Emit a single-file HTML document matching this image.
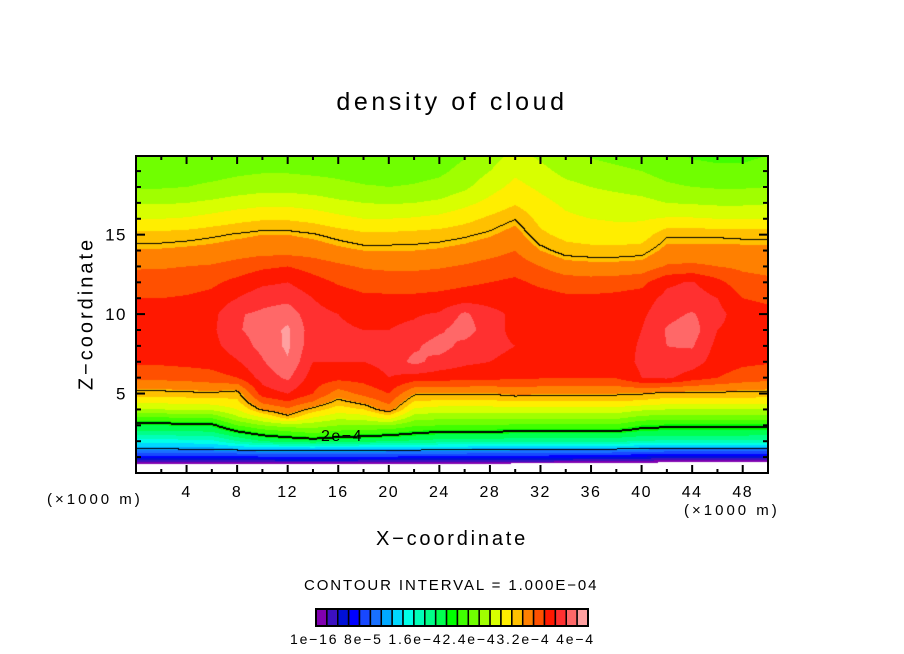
<!DOCTYPE html>
<html><head><meta charset="utf-8"><style>
html,body{margin:0;padding:0;background:#fff;}
#root{position:relative;width:904px;height:654px;overflow:hidden;font-family:"Liberation Sans",sans-serif;color:#000;}
.t{position:absolute;white-space:nowrap;}
</style></head><body>
<div id="root">
<div class="t" style="left:0;width:904px;text-align:center;top:88px;font-size:25px;letter-spacing:3.6px;">density of cloud</div>
<canvas id="cv" width="632" height="317" style="position:absolute;left:136px;top:156px;"></canvas>
<svg id="ax" width="904" height="654" style="position:absolute;left:0;top:0;"></svg>
<div class="t" style="left:-8px;top:302px;font-size:20px;letter-spacing:3px;transform:rotate(-90deg);transform-origin:center;width:190px;text-align:center;">Z−coordinate</div>
<div class="t" style="left:376px;top:528px;font-size:20px;letter-spacing:2.8px;">X−coordinate</div>
<div class="t" style="left:47px;top:491px;font-size:15px;letter-spacing:3px;">(×1000 m)</div>
<div class="t" style="left:684px;top:502px;font-size:15px;letter-spacing:3px;">(×1000 m)</div>
<div class="t" style="left:304px;top:577px;font-size:15px;letter-spacing:1.9px;">CONTOUR INTERVAL = 1.000E−04</div>
<div class="t" style="left:290px;top:631px;font-size:14px;letter-spacing:1.8px;">1e−16 8e−5 1.6e−42.4e−43.2e−4 4e−4</div>
<div class="t" style="left:321px;top:428px;font-size:16px;letter-spacing:1.5px;">2e−4</div>
</div>
<script>
const xCols=[0,2,4,6,8,10,12,14,16,18,20,22,24,26,28,30,32,34,36,38,40,42,44,46,48,50];
const zRows=[20,19,18,17,16,15,14,13,12,11,10,9,8,7,6,5,4.5,4,3.5,3,2.5,2,1.5,1,0.4];
const fieldRows=[
[14.2,14.2,14.2,14.2,14.3,14.4,14.4,14.4,14.3,14.2,14.2,14.3,14.5,14.9,15.5,16.3,15.8,15.2,14.9,14.7,14.5,14.2,13.9,13.8,13.8,14],
[14.4,14.4,14.5,14.6,14.8,14.9,14.9,14.8,14.7,14.5,14.5,14.6,14.8,15.3,16,16.8,16.3,15.7,15.4,15.2,15,14.6,14.3,14.2,14.2,14.4],
[14.9,14.9,15,15.2,15.4,15.6,15.6,15.5,15.3,15.1,15,15.1,15.3,15.8,16.6,17.3,16.8,16.3,16,15.8,15.6,15.2,15,14.9,14.9,15],
[15.9,15.9,16,16.2,16.5,16.7,16.7,16.5,16.2,16,15.9,16,16.2,16.7,17.3,17.9,17.3,16.8,16.5,16.4,16.3,16,15.9,15.8,15.8,15.9],
[17,17,17.1,17.4,17.7,17.9,17.9,17.7,17.3,17,17,17.1,17.3,17.7,18.2,18.7,17.7,17.2,17,16.9,16.9,17.1,17.1,17,17,17],
[18.3,18.3,18.4,18.6,18.8,19,19,18.8,18.5,18.2,18.2,18.3,18.4,18.6,18.9,19.4,18.2,17.7,17.5,17.4,17.5,18.6,18.6,18.6,18.5,18.5],
[19.1,19.1,19.2,19.3,19.5,19.6,19.6,19.5,19.2,19,19,19,19.1,19.3,19.6,20,19,18.4,18.3,18.3,18.4,19.3,19.3,19.3,19.3,19.3],
[19.9,19.9,20,20.1,20.4,20.8,21,20.6,20.2,19.9,19.8,19.8,19.9,20.1,20.4,20.6,20,19.4,19.3,19.3,19.4,20.1,20.2,20,19.8,19.7],
[20.4,20.5,20.6,20.8,21.3,21.8,22,21.4,20.9,20.6,20.5,20.5,20.6,20.8,21,21.2,20.8,20.5,20.4,20.5,20.7,21.8,22.1,21.3,20.4,20.2],
[21,21,21.1,21.3,22,22.6,22.7,22,21.5,21.2,21.2,21.2,21.3,21.5,21.6,21.6,21.4,21.2,21.2,21.3,21.5,22.3,22.5,22,21,20.8],
[21.5,21.5,21.6,21.7,22.9,23.2,23.6,22.3,22,21.8,21.8,21.9,22.1,23.2,22.3,21.8,21.6,21.5,21.5,21.5,21.8,22.7,23.1,22.3,21.5,21.3],
[21.6,21.6,21.7,21.8,22.9,23.4,24.2,22.4,22.1,22,22,22.2,22.8,23.6,22.3,21.8,21.6,21.5,21.5,21.6,22,23.1,23.5,22,21.6,21.5],
[21.5,21.5,21.6,21.7,22.5,23.3,24.2,22.3,22.1,22.1,22.2,22.8,23.5,22.6,22.2,22,21.7,21.5,21.5,21.6,22.1,23,23.1,21.7,21.5,21.4],
[21.2,21.2,21.3,21.4,21.9,22.9,23.9,22,22,22,22.3,23.3,22.6,22.2,22,21.8,21.6,21.4,21.4,21.5,22.2,22.8,22.5,21.5,21.2,21.1],
[20.3,20.3,20.4,20.6,21,22.4,23.2,21.5,21.3,21.4,22,21.6,21.5,21.4,21.3,21.2,21.1,21,21,21.1,22,22.2,21.5,21,20.6,20.4],
[18.5,18.5,18.6,18.7,18.4,21.5,22,21,19.5,20.3,21,19,18.9,18.9,18.9,19.2,19.1,19,19,19,18.9,18.6,18.6,18.6,18.6,18.5],
[17.3,17.3,17.4,17.5,17.8,20.3,21,20,18.5,19.3,20.3,18,17.8,17.8,17.8,18,18,18,18,18,17.8,17.5,17.5,17.5,17.5,17.4],
[16,16,16.1,16.2,17,19,19.8,18.5,17.5,18,19.5,16.8,16.5,16.5,16.5,16.6,16.6,16.6,16.6,16.6,16.2,16,16,16,16,16],
[14,14,14.1,14.2,15.8,17,18.5,17,16.3,16.5,17.5,15.5,15.3,15.3,15.3,15.3,15.3,15.3,15.3,15.3,14.7,14.5,14.5,14.5,14.5,14.5],
[12,12,12.1,12.2,14,15,15.5,15.5,15,15,15,14.2,14,14,14,13.8,13.8,13.8,13.8,13.8,13,12.8,12.8,12.8,12.8,12.7],
[10.5,10.5,10.6,10.7,12,13,13.5,14,13.5,13.2,13,12.5,12.2,12.2,12.2,12,12,12,12,12,11.6,11.5,11.5,11.5,11.5,11.4],
[8.5,8.5,8.6,8.7,10,11,11.5,11.8,11.5,11.3,11,10.8,10.6,10.6,10.6,10.3,10.3,10.3,10.3,10.3,9.9,9.8,9.8,9.8,9.8,9.7],
[6.3,6.3,6.4,6.5,6.8,7,7,7,7,7,6.9,6.8,6.7,6.7,6.6,6.5,6.5,6.5,6.5,6.4,6.2,6,6,6,6,6],
[3.5,3.5,3.5,3.4,3.5,3.8,4,4,4,3.9,3.8,3.7,3.6,3.6,3.5,3.4,3.4,3.3,3.2,3,2.8,2.5,2.5,2.5,2.5,2.5],
[-1.3,-1.3,-1.4,-1.5,-1.5,-1.5,-1.4,-1.4,-1.4,-1.5,-1.5,-1.5,-1.5,-1.6,-1.6,-1.7,-1.7,-1.8,-1.8,-1.9,-2,-2,-2,-2,-2,-2]
];
const levelColors=["#8000b0","#3c10c0","#0010d8","#0000ff","#1848ff","#1870ff","#00a8ff","#00d8ff","#00ffe8","#00ffb8","#00ff88","#00ff50","#00ff00","#40ff00","#70ff00","#a0ff00","#d8ff00","#ffee00","#ffc000","#ff8000","#ff5000","#ff1800","#ff3030","#ff6868","#ffa0a0"];
const contourLevels=[6.25,12.5,18.75];
const xTicks=[4,8,12,16,20,24,28,32,36,40,44,48];
const yTicks=[5,10,15];

const PX0=136,PY0=156,PW=632,PH=317,XMAX=50,ZMAX=19.95;
const sx=x=>PX0+x/XMAX*PW;
const sz=z=>PY0+PH-z/ZMAX*PH;

function fieldAt(x,z){
  let i=Math.min(xCols.length-2,Math.max(0,Math.floor(x/2)));
  let tx=(x-xCols[i])/(xCols[i+1]-xCols[i]); tx=Math.max(0,Math.min(1,tx));
  let j=0; while(j<zRows.length-2 && z<zRows[j+1]) j++;
  let tz=(zRows[j]-z)/(zRows[j]-zRows[j+1]); tz=Math.max(0,Math.min(1,tz));
  const a=fieldRows[j][i],b=fieldRows[j][i+1],c=fieldRows[j+1][i],d=fieldRows[j+1][i+1];
  if(z<zRows[zRows.length-1]) return -10;
  return (a*(1-tx)+b*tx)*(1-tz)+(c*(1-tx)+d*tx)*tz;
}
function hex(h){return [parseInt(h.substr(1,2),16),parseInt(h.substr(3,2),16),parseInt(h.substr(5,2),16)];}
const rgb=levelColors.map(hex);
const cv=document.getElementById('cv');const ctx=cv.getContext('2d');
const img=ctx.createImageData(PW,PH);const V=new Float32Array(PW*PH);
for(let py=0;py<PH;py++)for(let px=0;px<PW;px++){
  V[py*PW+px]=fieldAt((px+0.5)/PW*XMAX,ZMAX-(py+0.5)/PH*ZMAX);
}
for(let py=0;py<PH;py++)for(let px=0;px<PW;px++){
  const k=py*PW+px,v=V[k];let col=[255,255,255];
  if(v>=0){col=rgb[Math.min(24,Math.floor(v))];}
  let black=false;
  for(const c of contourLevels){
    const s=v>=c;
    if(px<PW-1&&(V[k+1]>=c)!==s)black=true;
    if(py<PH-1&&(V[k+PW]>=c)!==s)black=true;
    if(c===12.5){
      if(px>0&&(V[k-1]>=c)!==s)black=true;
      if(py>0&&(V[k-PW]>=c)!==s)black=true;
    }
  }
  if(black)col=[0,0,0];
  img.data[k*4]=col[0];img.data[k*4+1]=col[1];img.data[k*4+2]=col[2];img.data[k*4+3]=255;
}
ctx.putImageData(img,0,0);

const NS="http://www.w3.org/2000/svg";const svg=document.getElementById('ax');
function mk(tag,attrs){const e=document.createElementNS(NS,tag);for(const k in attrs)e.setAttribute(k,attrs[k]);svg.appendChild(e);return e;}
const fr=mk('rect',{x:PX0,y:PY0,width:PW,height:PH,fill:'none',stroke:'#000','stroke-width':2});


for(let x=2;x<XMAX;x+=2){
  const major=x%4===0;const L=major?8:4;
  const t1=mk('line',{x1:sx(x),x2:sx(x),y1:PY0+PH,y2:PY0+PH-L,stroke:'#000','stroke-width':2});
  
  
  const t2=mk('line',{x1:sx(x),x2:sx(x),y1:PY0,y2:PY0+L,stroke:'#000','stroke-width':2});
  
  
}
for(let z=1;z<20;z++){
  const major=z%5===0;const L=major?9:5;
  const t1=mk('line',{x1:PX0,x2:PX0+L,y1:sz(z),y2:sz(z),stroke:'#000','stroke-width':2});
  
  
  const t2=mk('line',{x1:PX0+PW,x2:PX0+PW-L,y1:sz(z),y2:sz(z),stroke:'#000','stroke-width':2});
  
  
}
xTicks.forEach(x=>{
  const t=mk('text',{x:sx(x),y:497,'text-anchor':'middle','font-size':16,'letter-spacing':1.5,'font-family':'Liberation Sans, sans-serif'});
  t.textContent=String(x);
  
  
});
yTicks.forEach(z=>{
  const t=mk('text',{x:127,y:sz(z)+6,'text-anchor':'end','font-size':17,'letter-spacing':1.5,'font-family':'Liberation Sans, sans-serif'});
  t.textContent=String(z);
  
  
});
const CB0=316,CBW=272,CBY=609,CBH=17;
levelColors.forEach((c,i)=>{
  const r=mk('rect',{x:CB0+i*CBW/levelColors.length,y:CBY,width:CBW/levelColors.length,height:CBH,fill:c,stroke:'#000','stroke-width':1.5});
  
  
});
const cbf=mk('rect',{x:CB0,y:CBY,width:CBW,height:CBH,fill:'none',stroke:'#000','stroke-width':2});


</script>
</body></html>
